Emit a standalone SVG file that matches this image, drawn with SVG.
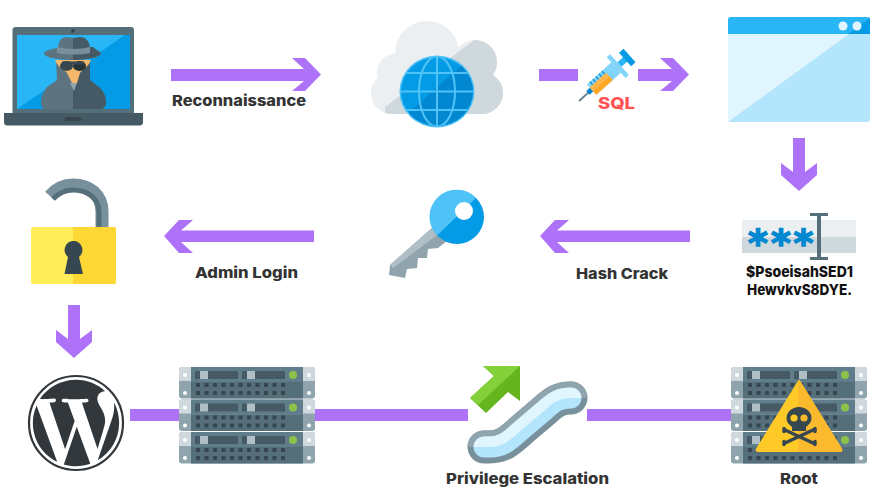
<svg xmlns="http://www.w3.org/2000/svg" width="887" height="493" viewBox="0 0 887 493">
<style>
.lbl{font-family:Inter,"Liberation Sans",sans-serif;font-weight:800;font-size:15px;fill:#333;}
.blk{fill:#111;}
.conn{fill:#ae72f9;}
</style>
<defs>
<clipPath id="cloudClip"><circle cx="427" cy="53" r="32"/><circle cx="392" cy="93" r="21"/><circle cx="475" cy="62" r="22"/><circle cx="482" cy="93" r="21"/><circle cx="395" cy="72" r="18"/><rect x="392" y="60" width="90" height="54"/></clipPath>
<clipPath id="escClip"><path d="M450,447H490C505,447 512,438 525,427L545,410C555,401 560,398 572,398H610V360H450z"/></clipPath>
<clipPath id="globeClip"><ellipse cx="437" cy="91.500" rx="36" ry="34.500"/></clipPath>
<g id="unit">
<rect x="0" y="0" width="136" height="31.500" rx="3" fill="#90a4ae"/>
<path d="M3,0H133a3,3 0 0 1 3,3V14H0V3a3,3 0 0 1 3,-3z" fill="#cfd8dc"/>
<rect x="12" y="0" width="112" height="15" fill="#607d8b"/>
<rect x="12" y="15" width="112" height="16.500" fill="#546e7a"/>
<circle cx="6" cy="8" r="2" fill="#fff"/><circle cx="130" cy="8" r="2" fill="#fff"/>
<circle cx="6" cy="26" r="2" fill="#fff"/><circle cx="130" cy="26" r="2" fill="#fff"/>
<rect x="16" y="4" width="43" height="8" fill="#455a64"/><rect x="21" y="4" width="8" height="8" fill="#b0bec5"/>
<rect x="63" y="4" width="43" height="8" fill="#455a64"/><rect x="68" y="4" width="8" height="8" fill="#b0bec5"/>
<circle cx="114" cy="8" r="4" fill="#8bc34a"/>
<path d="M17,16h4v4h-4zM25.500,16h4v4h-4zM34,16h4v4h-4zM42.500,16h4v4h-4zM51,16h4v4h-4zM59.500,16h4v4h-4zM68,16h4v4h-4zM76.500,16h4v4h-4zM85,16h4v4h-4zM93.500,16h4v4h-4zM102,16h4v4h-4zM17,24h4v4h-4zM25.500,24h4v4h-4zM34,24h4v4h-4zM42.500,24h4v4h-4zM51,24h4v4h-4zM59.500,24h4v4h-4zM68,24h4v4h-4zM76.500,24h4v4h-4zM85,24h4v4h-4zM93.500,24h4v4h-4zM102,24h4v4h-4z" fill="#37474f"/>
</g>
<g id="rack"><use href="#unit"/><use href="#unit" y="32.500"/><use href="#unit" y="65"/></g>
</defs>

<g id="connectors">
<polygon class="conn" points="171,69 304,69 292,58 305,58 321,74.500 305,91 292,91 304,81 171,81"/>
<rect class="conn" x="539" y="69" width="39" height="12"/>
<polygon class="conn" points="638,69 672,69 660,58 673,58 689,74.500 673,91 660,91 672,81 638,81"/>
<polygon class="conn" points="793,138 805,138 805,172 817,163 817,175 799,191 781,175 781,163 793,172"/>
<polygon class="conn" points="690,230.500 557,230.500 569,220 555,220 540,236 555,253 569,253 557,242 690,242"/>
<polygon class="conn" points="314,230.500 181,230.500 193,220 179,220 164,236 179,253 193,253 181,242 314,242"/>
<polygon class="conn" points="68,305 80,305 80,339 92,330 92,342 74,358 56,342 56,330 68,339"/>
<rect class="conn" x="130" y="409" width="49" height="12"/>
<rect class="conn" x="315" y="409" width="153" height="12"/>
<rect class="conn" x="587" y="409" width="144" height="12"/>
</g>

<g id="laptop">
<rect x="12.500" y="27" width="121.500" height="88" rx="3" fill="#546e7a"/>
<circle cx="73" cy="31" r="2" fill="#37474f"/>
<rect x="17" y="35" width="113" height="74" fill="#039be5"/>
<polygon points="17,35 125,35 17,109" fill="#29b6f6"/>
<path d="M4,113H143V122a3.500,3.500 0 0 1 -3.500,3.500H7.500A3.500,3.500 0 0 1 4,122z" fill="#455a64"/>
<rect x="64.500" y="117" width="17.500" height="4" rx="2" fill="#37474f"/>
<path d="M56,60L57,80L47,87C43,92 41,97 41,102C41,106 42,109 45,109H101C104,109 106,106 106,102C106,97 104,92 100,88L90,80L90,60z" fill="#5d7480"/>
<path d="M73,60H90L90,80L100,88C104,92 106,97 106,102C106,106 104,109 101,109H73z" fill="#455a64"/>
<path d="M55,60H91C89,66 84,68 80,73L77,83H72L67,73C62,68 57,66 55,60z" fill="#f4b76b"/>
<polygon points="70,83 77,83 74,91" fill="#90a4ae"/>
<ellipse cx="66.500" cy="66" rx="6.500" ry="5" fill="#37474f"/><ellipse cx="79.500" cy="66" rx="6.500" ry="5" fill="#263238"/>
<rect x="62" y="61.500" width="22" height="3" fill="#37474f"/>
<ellipse cx="72.500" cy="53.500" rx="28.500" ry="6.500" fill="#5d7480"/>
<path d="M73,47H93L101,53.500C98,57.500 85,60 73,60z" fill="#455a64"/>
<path d="M58,50C58,41 61,37 67,37C69,37 71,38 73,38V53H58z" fill="#5d7480"/>
<path d="M73,38C75,38 77,37 80,37C86,37 90,41 90,50V53H73z" fill="#455a64"/>
<path d="M57,47C67,49.500 80,49.500 90,47V53C80,55 67,55 57,53z" fill="#78909c"/>
</g>
<text class="lbl" x="172" y="106" textLength="134" lengthAdjust="spacingAndGlyphs">Reconnaissance</text>

<g id="cloud">
<g clip-path="url(#cloudClip)">
<rect x="365" y="15" width="145" height="105" fill="#eceff1"/>
<polygon points="385,107 477,38 510,38 510,120 385,120" fill="#cfd8dc"/>
</g>
<ellipse cx="437" cy="91.500" rx="37.500" ry="36" fill="#4fc3f7"/>
<ellipse cx="437" cy="91.500" rx="36" ry="34.500" fill="#039be5"/>
<g clip-path="url(#globeClip)">
<polygon points="395,125 465,62 480,62 480,130 395,130" fill="#0288d1"/>
<g fill="none" stroke="#4fc3f7" stroke-width="2">
<ellipse cx="437" cy="91.500" rx="18" ry="35"/>
<path d="M437,56V127M400,91.500H474M404,73H470M404,110H470"/>
</g>
</g>
</g>

<g id="syringe">
<g transform="translate(579,101) rotate(-42)">
<rect x="0" y="-0.900" width="16" height="1.800" fill="#607d8b"/>
<rect x="12" y="-2.500" width="6" height="5" fill="#0288d1"/>
<rect x="17" y="-7" width="33" height="14" fill="#81d4fa"/>
<rect x="17" y="-3" width="22" height="10" fill="#ffb74d"/>
<rect x="17" y="2" width="22" height="5" fill="#ffa726"/>
<path d="M21,-7v4M25,-7v4M29,-7v4M33,-7v4M37,-7v4" stroke="#0288d1" stroke-width="1.200"/>
<rect x="50" y="-14" width="4.500" height="28" fill="#81d4fa"/>
<rect x="54.500" y="-3" width="10" height="6" fill="#29b6f6"/>
<rect x="62" y="-9" width="6" height="18" fill="#039be5"/>
</g>
</g>
<text x="598" y="109" font-family="Inter,'Liberation Sans',sans-serif" font-weight="800" font-size="16" fill="#ff5252" textLength="37" lengthAdjust="spacingAndGlyphs">SQL</text>

<g id="window">
<rect x="728" y="17" width="142" height="105" rx="3" fill="#b3e5fc"/>
<polygon points="728,34 849,34 728,122" fill="#e1f5fe"/>
<path d="M731,17H867a3,3 0 0 1 3,3V34H728V20a3,3 0 0 1 3,-3z" fill="#29b6f6"/>
<path d="M848,34L870,18V34z" fill="#039be5"/>
<circle cx="843" cy="26" r="4.500" fill="#e1f5fe"/><circle cx="857" cy="26" r="4.500" fill="#e1f5fe"/>
</g>

<g id="password">
<rect x="742" y="220" width="114" height="17" fill="#eceff1"/>
<rect x="742" y="237" width="114" height="16" fill="#cfd8dc"/>
<text y="256" font-family="'DejaVu Sans',sans-serif" font-weight="700" font-size="38" fill="#0288d1" stroke="#0288d1" stroke-width="1.500"><tspan x="748">*</tspan><tspan x="771">*</tspan><tspan x="793.500">*</tspan></text>
<rect x="817" y="214" width="4" height="45" fill="#546e7a"/>
<rect x="810" y="213" width="18" height="3" fill="#546e7a"/>
<rect x="810" y="257" width="18" height="3" fill="#546e7a"/>
</g>
<text class="lbl blk" x="746" y="277" textLength="107" lengthAdjust="spacingAndGlyphs">$PsoeisahSED1</text>
<text class="lbl blk" x="747" y="295" textLength="105" lengthAdjust="spacingAndGlyphs">HewvkvS8DYE.</text>

<text class="lbl" x="576" y="279" textLength="92" lengthAdjust="spacingAndGlyphs">Hash Crack</text>

<g id="key">
<polygon points="433,227 390,265 389,275 405,278 407,269 417,268 418,258 427,258 428,249 438,248 447,241" fill="#90a4ae"/>
<polygon points="433,227 390,265 393,268 440,233" fill="#b0bec5"/>
<circle cx="457" cy="217" r="27" fill="#039be5"/>
<path d="M437,235.500A27,27 0 0 1 476,198z" fill="#4fc3f7"/>
<circle cx="464" cy="211" r="9" fill="#fff"/>
</g>

<text class="lbl" x="195" y="278" textLength="103" lengthAdjust="spacingAndGlyphs">Admin Login</text>

<g id="lock">
<path d="M50,196C57,188 65,185 73,185C90,185 102,195 102,212V228" fill="none" stroke="#78909c" stroke-width="13"/>
<path d="M53,199C59,193 66,190 73,190C87,190 99,198 99,212V228" fill="none" stroke="#546e7a" stroke-width="5"/>
<rect x="31" y="227" width="85" height="57" rx="2" fill="#ffee58"/>
<path d="M73,227H114a2,2 0 0 1 2,2V282a2,2 0 0 1 -2,2H73z" fill="#fdd835"/>
<path d="M73,241a9,9 0 0 1 6,16L83,274H64.500L68,257a9,9 0 0 1 5,-16z" fill="#37474f"/>
</g>

<g id="wordpress">
<circle cx="76" cy="423" r="47" fill="none" stroke="#32373c" stroke-width="2.200"/>
<path transform="translate(28,375) scale(4)" fill="#32373c" d="M21.469 6.825c.84 1.537 1.318 3.3 1.318 5.175 0 3.979-2.156 7.456-5.363 9.325l3.295-9.527c.615-1.54.82-2.771.82-3.864 0-.405-.026-.78-.07-1.11m-7.981.105c.647-.03 1.232-.105 1.232-.105.582-.075.514-.93-.067-.899 0 0-1.755.135-2.88.135-1.064 0-2.85-.15-2.85-.15-.585-.03-.661.855-.075.885 0 0 .54.061 1.125.09l1.68 4.605-2.37 7.08L5.354 6.9c.649-.03 1.234-.1 1.234-.1.585-.075.516-.93-.065-.896 0 0-1.746.138-2.874.138-.2 0-.438-.008-.69-.015C4.911 3.15 8.235 1.215 12 1.215c2.809 0 5.365 1.072 7.286 2.833-.046-.003-.091-.009-.141-.009-1.06 0-1.812.923-1.812 1.914 0 .89.513 1.643 1.06 2.531.411.72.89 1.643.89 2.977 0 .915-.354 1.994-.821 3.479l-1.075 3.585-3.9-11.61.001.014zM12 22.784c-1.059 0-2.081-.153-3.048-.437l3.237-9.406 3.315 9.087c.024.053.05.101.078.149-1.12.393-2.325.609-3.582.609M1.211 12c0-1.564.336-3.05.935-4.39L7.29 21.709C3.694 19.96 1.212 16.271 1.21 12"/>
</g>

<g id="server"><use href="#rack" x="179" y="367"/></g>

<g id="escalation">
<polygon points="520,366 483,366 494,376 470,398 486,413 508,392 520,401" fill="#64b51e"/>
<polygon points="520,366 483,366 494,376 470,398 478,405" fill="#84d038"/>
<path d="M484,447H490C505,447 512,438 525,427L545,410C555,401 560,398 571,398" fill="none" stroke="#78909c" stroke-width="33" stroke-linecap="round"/>
<path d="M484,447H490C505,447 512,438 525,427L545,410C555,401 560,398 571,398" fill="none" stroke="#90a4ae" stroke-width="33" stroke-linecap="round" clip-path="url(#escClip)"/>
<path d="M484,447H490C505,447 512,438 525,427L545,410C555,401 560,398 571,398" fill="none" stroke="#b3e5fc" stroke-width="21" stroke-linecap="round"/>
<path d="M484,447H490C505,447 512,438 525,427L545,410C555,401 560,398 571,398" fill="none" stroke="#e1f5fe" stroke-width="21" stroke-linecap="round" clip-path="url(#escClip)"/>
</g>
<text class="lbl" x="446" y="484" textLength="163" lengthAdjust="spacingAndGlyphs">Privilege Escalation</text>

<g id="root">
<use href="#rack" x="731" y="367"/>
<path d="M799,381L841,449Q842,451 840,451H758Q756,451 757,449z" fill="#ffca28" stroke="#ffca28" stroke-width="2" stroke-linejoin="round"/>
<path d="M799,381L841,449Q842,451 840,451H799z" fill="#fbb92d" stroke="#fbb92d" stroke-width="2" stroke-linejoin="round"/>
<path d="M799,407C806,407 811.500,412 811.500,418C811.500,423 808,425 806,427V431H792V427C790,425 786.500,423 786.500,418C786.500,412 792,407 799,407z" fill="#37474f"/>
<circle cx="794" cy="418" r="3.600" fill="#ffca28"/><circle cx="804" cy="418" r="3.600" fill="#fbb92d"/>
<path d="M785,430L813,443M813,430L785,443" stroke="#37474f" stroke-width="3.500" stroke-linecap="round"/>
<path d="M784,428.500v3M815,428.500v3M784,441.500v3M815,441.500v3" stroke="#37474f" stroke-width="3.500" stroke-linecap="round"/>
</g>
<text class="lbl" x="780" y="484" textLength="38" lengthAdjust="spacingAndGlyphs">Root</text>
</svg>
